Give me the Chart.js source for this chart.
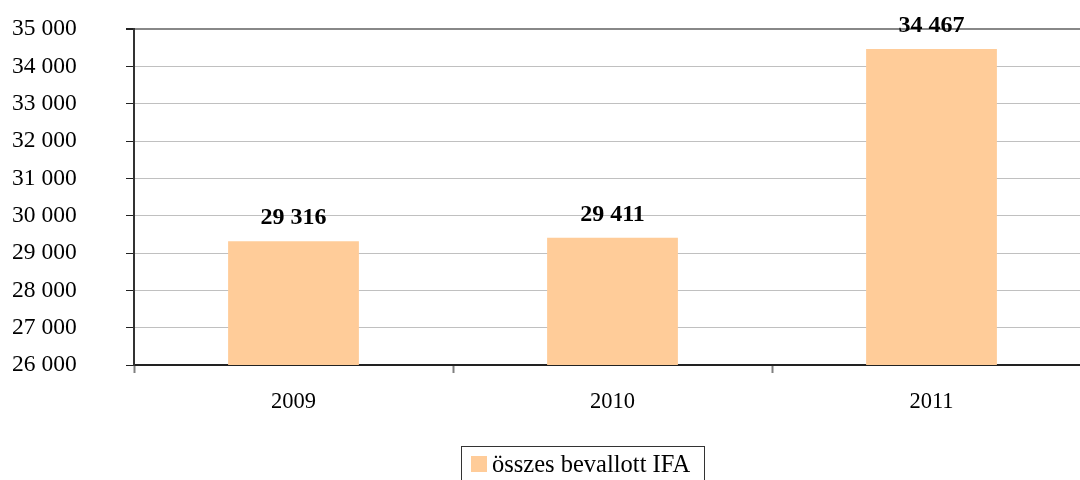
<!DOCTYPE html>
<html>
<head>
<meta charset="utf-8">
<script src="https://cdn.jsdelivr.net/npm/chart.js@4.4.1/dist/chart.umd.min.js"></script>
<style>
  html, body { margin: 0; padding: 0; background: #fff; overflow: hidden; }
  #wrap { position: relative; width: 1080px; height: 480px; overflow: hidden; }
  #box { position: absolute; left: 0; top: 0; width: 1092px; height: 480px; }
  #legend {
    position: absolute; left: 461px; top: 446px; width: 244px; height: 38px;
    border: 1px solid #333; box-sizing: border-box;
    font-family: "Liberation Serif", "Times New Roman", serif; font-size: 24.5px; color: #000;
    display: flex; align-items: center; padding-left: 9px; padding-bottom: 2px;
  }
  #legend span.sw { display: inline-block; width: 16px; height: 16px; background: #FFCC99; margin-right: 5px; }
</style>
</head>
<body>
<div id="wrap">
  <div id="box"><canvas id="chart"></canvas></div>
  <div id="legend"><span class="sw"></span>összes bevallott IFA</div>
</div>
<script>
// data
const years = ["2009", "2010", "2011"];
const ifaValues = [29316, 29411, 34467];
const seriesName = "összes bevallott IFA";
const yMin = 26000, yMax = 35000, yStep = 1000;

const serif = "'Liberation Serif', 'Times New Roman', serif";
const fmt = v => String(v).replace(/\B(?=(\d{3})+(?!\d))/g, " ");

// value labels above the bars
const barLabels = {
  id: "barLabels",
  afterDatasetsDraw(chart) {
    const ctx = chart.ctx;
    const meta = chart.getDatasetMeta(0);
    ctx.save();
    ctx.font = "bold 24px " + serif;
    ctx.fillStyle = "#000";
    ctx.textAlign = "center";
    ctx.textBaseline = "alphabetic";
    meta.data.forEach((bar, i) => {
      ctx.fillText(fmt(chart.data.datasets[0].data[i]), bar.x, bar.y - 17);
    });
    ctx.restore();
  }
};

new Chart(document.getElementById("chart"), {
  type: "bar",
  data: {
    labels: years,
    datasets: [{
      label: seriesName,
      data: ifaValues,
      backgroundColor: "#FFCC99",
      borderWidth: 0,
      barPercentage: 0.41,
      categoryPercentage: 1
    }]
  },
  options: {
    responsive: true,
    maintainAspectRatio: false,
    animation: false,
    layout: { padding: { top: 29, right: 1, left: 12, bottom: 0 } },
    plugins: {
      legend: { display: false },
      tooltip: { enabled: false }
    },
    scales: {
      x: {
        offset: true,
        grid: {
          offset: true,
          drawOnChartArea: false,
          drawTicks: true,
          tickLength: 8,
          tickColor: "#808080",
          tickWidth: 2
        },
        border: { color: "#222", width: 2 },
        ticks: { color: "#000", font: { family: serif, size: 22.5 }, padding: 16 },
        afterFit(scale) { scale.height = 480 - 365; }
      },
      y: {
        min: yMin,
        max: yMax,
        ticks: {
          stepSize: yStep,
          color: "#000",
          font: { family: serif, size: 23.5 },
          padding: 4,
          crossAlign: "far",
          callback: v => fmt(v)
        },
        grid: {
          color: ctx => ctx.tick && ctx.tick.value === yMax ? "#888" : "#c0c0c0",
          lineWidth: ctx => ctx.tick && ctx.tick.value === yMax ? 2 : 1,
          tickLength: 8,
          tickColor: "#222",
          drawTicks: true
        },
        border: { color: "#333", width: 2 },
        afterFit(scale) { scale.width = 134 - 12; }
      }
    }
  },
  plugins: [barLabels]
});
</script>
</body>
</html>
